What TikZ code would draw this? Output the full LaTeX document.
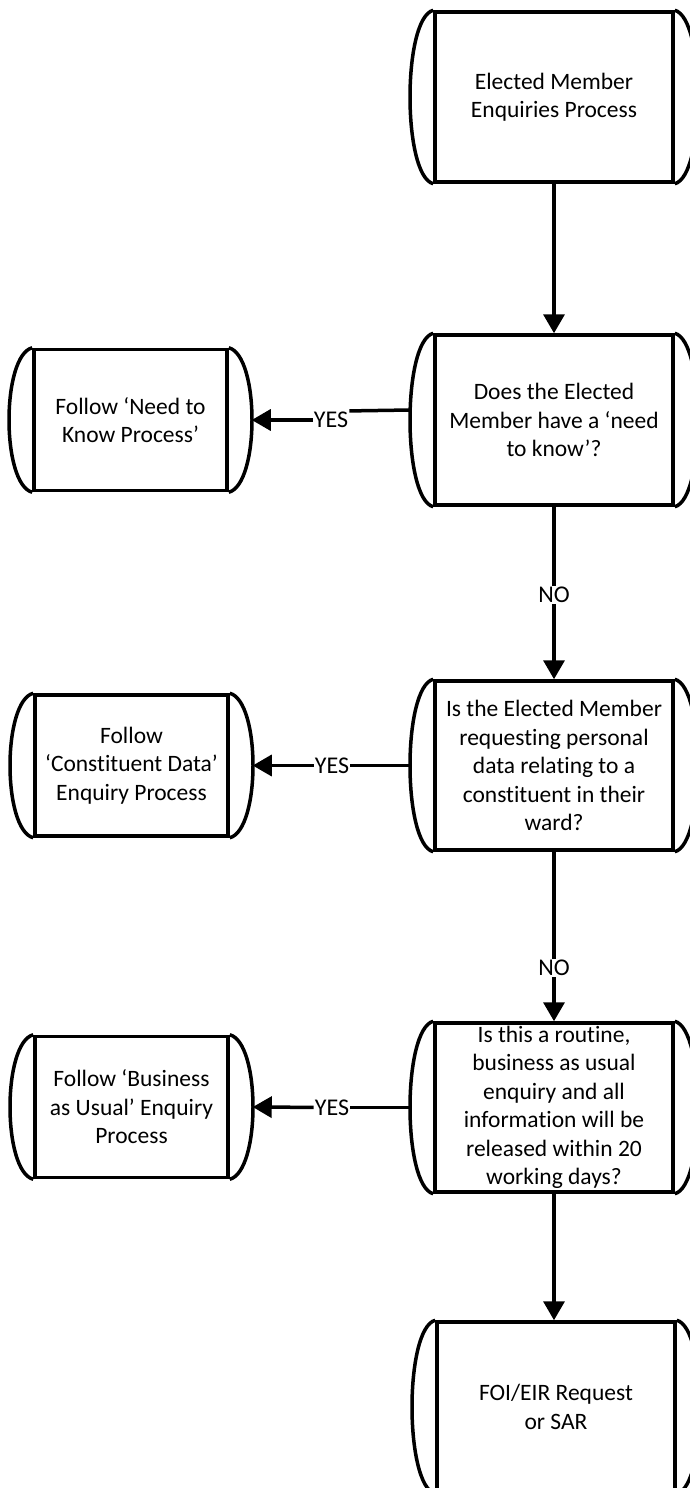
\documentclass[tikz,border=0pt]{standalone}
\usepackage{fontspec}
\setmainfont{Carlito}[Ligatures=NoCommon]
\usetikzlibrary{arrows.meta}

\begin{document}
\begin{tikzpicture}[x=1pt, y=-1pt,
  every node/.style={font=\fontsize{23.5}{28.5}\selectfont},
  proc/.style={draw, line width=3.5pt, align=center, inner sep=0pt,
    minimum width=238pt, minimum height=170pt},
  side/.style={proc, minimum width=193pt, minimum height=141pt},
  lbl/.style={font=\fontsize{24}{28}\selectfont, inner sep=1pt},
  link/.style={line width=3.5pt},
  arr/.style={line width=3.5pt, -{Triangle[length=19pt, width=21pt]}}]
\useasboundingbox (0,0) rectangle (689,1488);

% main column
\node[proc] (b1) at (554,97) {Elected Member\\Enquiries Process};
\node[proc] (b2) at (554,420) {Does the Elected\\Member have a ‘need\\to know’?};
\node[proc, minimum height=169pt] (b3) at (554,765.5)
  {Is the Elected Member\\requesting personal\\data relating to a\\constituent in their\\ward?};
\node[proc, minimum height=169pt] (b4) at (554,1107.5)
  {Is this a routine,\\business as usual\\enquiry and all\\information will be\\released within 20\\working days?};
\node[proc] (b5) at (556,1407) {FOI/EIR Request\\or SAR};

% left column
\node[side] (l1) at (130.5,420) {Follow ‘Need to\\Know Process’};
\node[side] (l2) at (131.5,765.5) {Follow\\‘Constituent Data’\\Enquiry Process};
\node[side] (l3) at (131.5,1107) {Follow ‘Business\\as Usual’ Enquiry\\Process};

% curved sides
\foreach \n in {b1,b2,b3,b4,b5,l1,l2,l3} {
  \draw[line width=3.5pt] (\n.north west) .. controls +(-31,8) and +(-31,-8) .. (\n.south west);
  \draw[line width=3.5pt] (\n.north east) .. controls +(31,8) and +(31,-8) .. (\n.south east);
}

% labels
\node[lbl] (n1) at (554,595) {NO};
\node[lbl] (n2) at (554,968) {NO};
\node[lbl] (y1) at (331,420) {YES};
\node[lbl] (y2) at (332,765.5) {YES};
\node[lbl] (y3) at (332,1107.5) {YES};

% connectors
\draw[arr] (b1) -- (b2);
\draw[link] (b2) -- (n1);
\draw[arr] (n1) -- (b3);
\draw[link] (b3) -- (n2);
\draw[arr] (n2) -- (b4);
\draw[arr] (b4.south) -- (b4.south |- b5.north);

\draw[link] ([xshift=-23pt, yshift=10pt]b2.west) -- (y1.north east);
\draw[arr] (y1) -- ([xshift=23pt]l1.east);
\draw[link] ([xshift=-23pt]b3.west) -- (y2);
\draw[arr] (y2) -- ([xshift=23pt]l2.east);
\draw[link] ([xshift=-23pt]b4.west) -- (y3);
\draw[arr] (y3) -- ([xshift=23pt]l3.east);
\end{tikzpicture}
\end{document}
